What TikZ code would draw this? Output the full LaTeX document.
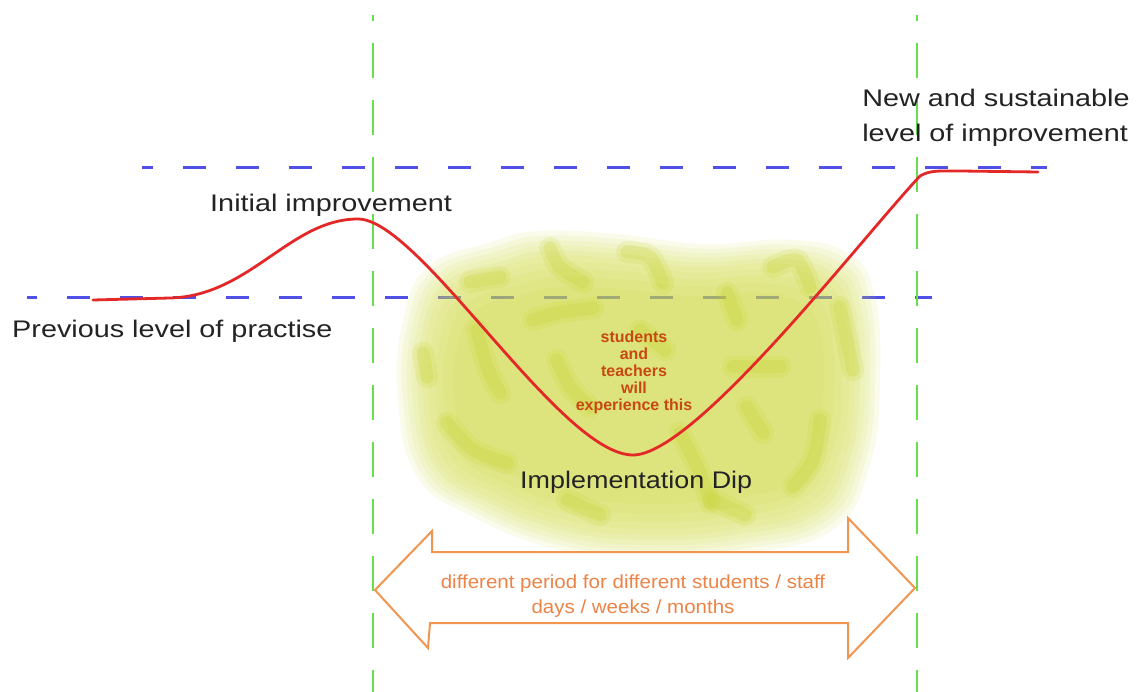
\documentclass[tikz,border=0pt]{standalone}
\usepackage{fontspec}
\setmainfont{Liberation Sans}
\definecolor{dipblue}{RGB}{80,80,230}
\definecolor{dipgreen}{RGB}{105,222,75}
\definecolor{dipred}{RGB}{228,40,40}
\definecolor{arrowor}{RGB}{240,150,80}
\definecolor{textor}{RGB}{236,132,72}
\definecolor{txtgray}{RGB}{35,35,35}
\definecolor{blobfill}{RGB}{209,220,63}
\definecolor{blobstroke}{RGB}{196,210,40}
\definecolor{centertxt}{RGB}{200,72,20}
\begin{document}
\begin{tikzpicture}[x=1pt,y=-1pt,
  lbl/.style={text=txtgray, font=\fontsize{24}{35}\selectfont, inner sep=0pt, xscale=1.2},
  bluedash/.style={draw=dipblue, line width=3pt, dash pattern=on 23pt off 30pt},
  greendash/.style={draw=dipgreen, line width=2.5pt, dash pattern=on 35pt off 22pt, dash phase=29pt},
  brushwide/.style={draw=blobstroke, line width=22pt, line cap=round, line join=round, opacity=0.16},
  brushnarrow/.style={draw=blobstroke, line width=13pt, line cap=round, line join=round, opacity=0.22}]
\useasboundingbox (0,0) rectangle (1138,692);
\fill[white] (0,0) rectangle (1138,692);

% horizontal reference levels
\coordinate (lowL) at (27,298);
\coordinate (lowR) at (932,298);
\coordinate (upL) at (142,168);
\coordinate (upR) at (1047,168);
\draw[bluedash, dash phase=13pt] (lowL) -- (lowR);
\draw[bluedash, dash phase=12pt] (upL) -- (upR);

% soft blob
\def\blobshape{plot[smooth cycle, tension=0.75] coordinates {(440,278) (500,255) (545,245) (620,248) (700,257) (780,253) (835,265) (860,300) (866,380) (856,460) (822,518) (740,540) (645,546) (560,536) (482,506) (430,470) (412,400) (416,330)}}
\foreach \d in {14,9,4,-1,-6,-11,-17,-24,-32,-42}{
  \pgfmathsetmacro\xs{1+\d/227}
  \pgfmathsetmacro\ys{1+\d/150}
  \begin{scope}[shift={(638,395)},xscale=\xs,yscale=\ys,shift={(-638,-395)}]
    \fill[blobfill, opacity=0.1] \blobshape;
  \end{scope}
}
% brush strokes
\foreach \st in {brushwide,brushnarrow}{
  \draw[\st] plot[smooth] coordinates {(550,248) (560,267) (583,282)};
  \draw[\st] plot[smooth] coordinates {(627,252) (650,257) (663,283)};
  \draw[\st] plot[smooth] coordinates {(470,282) (500,277)};
  \draw[\st] plot[smooth] coordinates {(423,353) (427,377)};
  \draw[\st] plot[smooth] coordinates {(477,330) (487,367) (500,393)};
  \draw[\st] plot[smooth] coordinates {(533,320) (557,313) (593,308)};
  \draw[\st] plot[smooth] coordinates {(557,360) (570,387) (590,407)};
  \draw[\st] plot[smooth] coordinates {(447,423) (473,450) (507,463)};
  \draw[\st] plot[smooth] coordinates {(773,267) (797,260) (810,287)};
  \draw[\st] plot[smooth] coordinates {(727,293) (737,320)};
  \draw[\st] plot[smooth] coordinates {(840,307) (853,370)};
  \draw[\st] plot[smooth] coordinates {(733,367) (780,367)};
  \draw[\st] plot[smooth] coordinates {(820,420) (813,460) (793,487)};
  \draw[\st] plot[smooth] coordinates {(680,433) (700,473) (710,503)};
  \draw[\st] plot[smooth] coordinates {(567,500) (600,515)};
  \draw[\st] plot[smooth] coordinates {(713,500) (745,515)};
  \draw[\st] plot[smooth] coordinates {(747,407) (763,433)};
  \draw[\st] plot[smooth] coordinates {(640,330) (665,350)};
}

% vertical period markers
\coordinate (gLtop) at (373,15);
\coordinate (gLbot) at (373,692);
\coordinate (gRtop) at (917,15);
\coordinate (gRbot) at (917,692);
\draw[greendash] (gLtop) -- (gLbot);
\draw[greendash] (gRtop) -- (gRbot);

% red curve
\coordinate (c0) at (93,300);
\coordinate (c1) at (170,298);
\coordinate (peak) at (358,219);
\coordinate (dip) at (633,455);
\coordinate (top) at (920,176);
\coordinate (flat) at (960,171);
\coordinate (cend) at (1038,172);
\draw[dipred, line width=2.8pt, line cap=round]
  (c0) -- (c1)
  .. controls (250,296) and (290,219) .. (peak)
  .. controls (420,219) and (560,455) .. (dip)
  .. controls (695,455) and (860,240) .. (top)
  .. controls (930,170) and (940,171) .. (flat) -- (cend);

% labels
\node[lbl, anchor=base west] (prev) at (12,338) {Previous level of practise};
\node[lbl, anchor=base west] (init) at (210,212) {Initial improvement};
\node[lbl, anchor=base west, align=left] (newlvl) at (862,142) {New and sustainable\\level of improvement};
\node[lbl, anchor=base west, xscale=0.935] (dipl) at (520,488) {Implementation Dip};

% centre text
\node[text=centertxt, font=\fontsize{16}{17}\selectfont\bfseries, inner sep=0pt, align=center, anchor=base] (ctext) at (634,410) {students\\and\\teachers\\will\\experience this};

% orange double arrow
\draw[arrowor, line width=2pt, fill=white, line join=miter]
  (375,590) -- (432,531) -- (432,552) -- (848,552) -- (848,518) -- (915,588)
  -- (848,658) -- (848,623) -- (430,623) -- (428,648) -- cycle;
\node[text=textor, font=\fontsize{19}{25}\selectfont, inner sep=0pt, align=center, xscale=1.08, anchor=base] (period) at (633,613) {different period for different students / staff\\days / weeks / months};
\end{tikzpicture}
\end{document}
